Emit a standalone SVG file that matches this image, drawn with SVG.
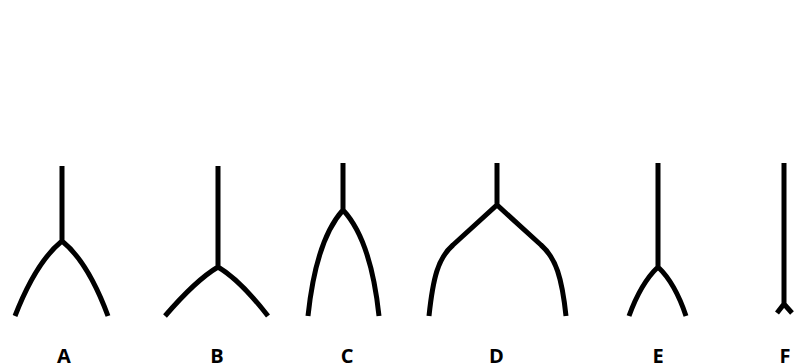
<svg xmlns="http://www.w3.org/2000/svg" width="803" height="363" viewBox="0 0 803 363">
<style>
.s{fill:none;stroke:#000;stroke-width:5;stroke-linejoin:miter}
.l{font-family:"Open Sans","Liberation Sans",sans-serif;font-weight:bold;font-size:20px;text-anchor:middle;fill:#000}
</style>
<rect width="803" height="363" fill="#fff"/>
<g id="A"><path class="s" d="M62,166 V241 M15,316 Q36,262 62,241 Q88,262 108,316"/><text class="l" x="64" y="362.5">A</text></g>
<g id="B"><path class="s" d="M218,166 V267 M165,316 Q196,280 218,267 Q240,280 268,316"/><text class="l" x="217" y="362.5">B</text></g>
<g id="C"><path class="s" d="M343,163 V210 M308,316 Q316,240 343,210 Q371,240 379,316"/><text class="l" x="347" y="362.5">C</text></g>
<g id="D"><path class="s" d="M497,163 V205 M429,316 C433,278 438,258 453,245 L497,205 L541,245 C556,258 562,278 566,316"/><text class="l" x="496.5" y="362.5">D</text></g>
<g id="E"><path class="s" d="M658,163 V267 M629,316 Q641,283 658,267 Q675,283 686,316"/><text class="l" x="658" y="362.5">E</text></g>
<g id="F"><path class="s" d="M784,163 V304 M777,313 L784,304 L792,313"/><text class="l" x="785" y="362.5">F</text></g>
</svg>
